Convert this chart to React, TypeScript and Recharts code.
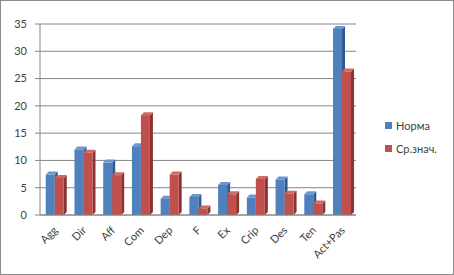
import React from 'react';
import { BarChart, Bar, XAxis, YAxis, CartesianGrid, Legend } from 'recharts';

const categories = ['Agg', 'Dir', 'Aff', 'Com', 'Dep', 'F', 'Ex', 'Crip', 'Des', 'Ten', 'Act+Pas'];
const normaValues = [7.4, 12.0, 9.6, 12.6, 3.0, 3.3, 5.5, 3.2, 6.5, 3.8, 34.1];
const avgValues = [6.8, 11.4, 7.3, 18.3, 7.4, 1.2, 3.8, 6.6, 3.9, 2.1, 26.3];
const yTicks = [0, 5, 10, 15, 20, 25, 30, 35];
const boundaryTicks = [0, 1, 2, 3, 4, 5, 6, 7, 8, 9, 10, 11];
const seriesNames = ['Норма', 'Ср.знач.'];

const data = categories.map((c, i) => ({ name: c, norma: normaValues[i], avg: avgValues[i] }));

const FONT = 'Lato, "Open Sans", sans-serif';
const TEXT = '#404040';
const AXIS = '#868686';

const make3D = (front: string, side: string, top: string) => (props: any) => {
  const { x, y, width, height } = props;
  if (height == null || height <= 0) return null;
  const d = 3;
  return (
    <g>
      <polygon points={`${x + width},${y} ${x + width + d},${y - d} ${x + width + d},${y + height - d} ${x + width},${y + height}`} fill={side} />
      <polygon points={`${x},${y} ${x + d},${y - d} ${x + width + d},${y - d} ${x + width},${y}`} fill={top} />
      <rect x={x} y={y} width={width} height={height} fill={front} />
    </g>
  );
};

const BlueShape = make3D('#4F81BD', '#2F5A8F', '#6D97CC');
const RedShape = make3D('#C0504D', '#8C3230', '#D06A67');

const XTick = (props: any) => {
  const { x, y, payload } = props;
  return (
    <text
      x={x + 4}
      y={y + 8}
      textAnchor="end"
      transform={`rotate(-45, ${x + 4}, ${y + 8})`}
      fontSize={11}
      fontFamily={FONT}
      fill={TEXT}
    >
      {payload.value}
    </text>
  );
};

const LegendContent = () => (
  <div style={{ fontFamily: FONT, fontSize: 11, color: TEXT }}>
    {seriesNames.map((n, i) => (
      <div key={n} style={{ display: 'flex', alignItems: 'center', height: 14, marginBottom: i === 0 ? 9 : 0 }}>
        <span style={{ display: 'inline-block', width: 7, height: 7, background: i === 0 ? '#4F81BD' : '#C0504D', marginRight: 4 }} />
        <span>{n}</span>
      </div>
    ))}
  </div>
);

export default function App() {
  return (
    <div style={{ position: 'absolute', left: 0, top: 0, width: 454, height: 275, background: '#fff' }}>
      <div style={{ position: 'absolute', left: 0, top: 0, width: 454, height: 275, border: '1px solid #8c8c8c', boxSizing: 'border-box', pointerEvents: 'none', zIndex: 2 }} />
      <BarChart
        width={454}
        height={275}
        data={data}
        margin={{ top: 24, right: 28, bottom: 10, left: 0 }}
        barCategoryGap="20%"
        barGap={0}
      >
        <CartesianGrid horizontal vertical={false} stroke={AXIS} strokeWidth={1} />
        <XAxis
          xAxisId="num"
          type="number"
          domain={[0, 11]}
          ticks={boundaryTicks}
          interval={0}
          height={0}
          tickFormatter={() => ''}
          tickSize={4}
          tickLine={{ stroke: AXIS }}
          axisLine={false}
        />
        <XAxis
          xAxisId="cat"
          dataKey="name"
          interval={0}
          height={50}
          tick={<XTick />}
          tickLine={false}
          axisLine={{ stroke: AXIS }}
        />
        <YAxis
          domain={[0, 35]}
          ticks={yTicks}
          width={40}
          tickSize={5}
          tickMargin={8}
          tick={{ fontSize: 11, fontFamily: FONT, fill: TEXT }}
          tickLine={{ stroke: AXIS }}
          axisLine={{ stroke: AXIS }}
        />
        <Legend
          content={<LegendContent />}
          layout="vertical"
          verticalAlign="middle"
          align="right"
          width={70}
          wrapperStyle={{ position: 'absolute', left: 385, top: 118, width: 70 }}
        />
        <Bar xAxisId="cat" dataKey="norma" name={seriesNames[0]} fill="#4F81BD" shape={BlueShape} isAnimationActive={false} />
        <Bar xAxisId="cat" dataKey="avg" name={seriesNames[1]} fill="#C0504D" shape={RedShape} isAnimationActive={false} />
      </BarChart>
    </div>
  );
}
